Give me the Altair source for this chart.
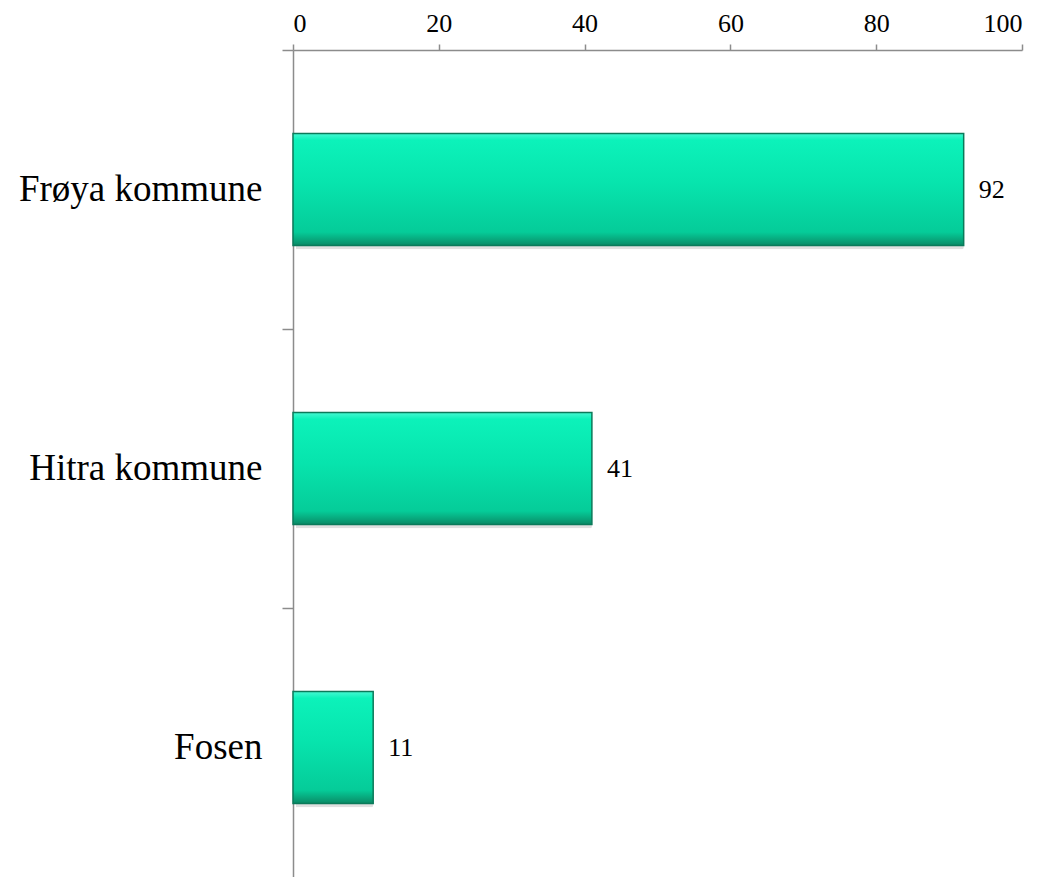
import altair as alt
import pandas as pd

categories = ["Frøya kommune", "Hitra kommune", "Fosen"]
values = [92, 41, 11]
x_ticks = [0, 20, 40, 60, 80, 100]

df = pd.DataFrame({"kommune": categories, "verdi": values})

FONT = "Liberation Serif"
STEP = 279

y_enc = alt.Y(
    "kommune:N",
    sort=categories,
    scale=alt.Scale(paddingInner=0, paddingOuter=0, range=[0, STEP * 3]),
    axis=alt.Axis(
        title=None,
        orient="left",
        bandPosition=0,
        labelFont=FONT,
        labelFontSize=37,
        labelColor="#000000",
        labelPadding=20,
        labelLimit=500,
        tickSize=11,
        tickColor="#8c8c8c",
        domainColor="#8c8c8c",
        domainWidth=1.5,
        tickWidth=1.5,
        grid=False,
        labelBaseline="middle",
    ),
)

x_enc = alt.X(
    "verdi:Q",
    scale=alt.Scale(domain=[0, 100], nice=False),
    axis=alt.Axis(
        title=None,
        orient="top",
        values=x_ticks,
        labelFont=FONT,
        labelFontSize=26,
        labelColor="#000000",
        labelPadding=8,
        tickSize=6,
        tickColor="#8c8c8c",
        domainColor="#8c8c8c",
        domainWidth=1.5,
        tickWidth=1.5,
        grid=False,
    ),
)

gradient = alt.Gradient(
    gradient="linear",
    x1=0, x2=0, y1=0, y2=1,
    stops=[
        alt.GradientStop(color="#45f8d2", offset=0),
        alt.GradientStop(color="#0cf2ba", offset=0.06),
        alt.GradientStop(color="#07e4ad", offset=0.45),
        alt.GradientStop(color="#05cc99", offset=0.88),
        alt.GradientStop(color="#08a67b", offset=0.95),
        alt.GradientStop(color="#0a8a66", offset=1),
    ],
)

base = alt.Chart(df)

shadow = base.mark_bar(
    size=112, color="#000000", opacity=0.12, xOffset=3, yOffset=4, cornerRadius=2
).encode(x=x_enc, y=y_enc)

bars = base.mark_bar(
    size=112, fill=gradient, stroke="#0b7a5a", strokeWidth=1.5
).encode(x=x_enc, y=y_enc)

labels = base.mark_text(
    align="left", baseline="middle", dx=15, font=FONT, fontSize=26, color="#000000"
).encode(x=x_enc, y=y_enc, text="verdi:Q")

chart = (
    alt.layer(shadow, bars, labels)
    .properties(
        width=729,
        height=827,
        padding={"left": 285, "top": 42, "right": 19, "bottom": 0},
        autosize=alt.AutoSizeParams(type="none"),
    )
    .configure_view(stroke=None)
)

chart.save("out.html", embed_options={"renderer": "svg", "actions": False})
